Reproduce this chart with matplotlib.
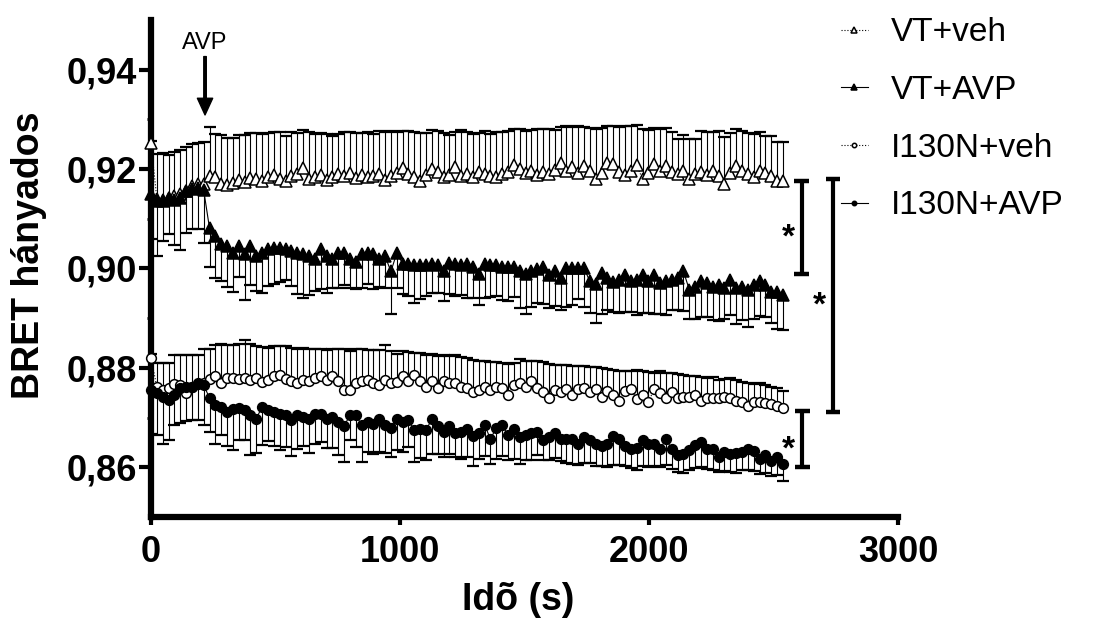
import numpy as np
import matplotlib
matplotlib.use('Agg')
import matplotlib.pyplot as plt

plt.rcParams['font.family'] = ['Liberation Sans', 'DejaVu Sans']

# ================================
# Dados
# ================================

# uma leitura a cada ~23.5 s, 109 leituras
tempo = np.arange(109) * 23.5

vt_veh = [
    0.9252, 0.9140, 0.9138, 0.9142, 0.9145, 0.9150, 0.9156, 0.9165, 0.9169, 0.9170,
    0.9187, 0.9184, 0.9170, 0.9168, 0.9172, 0.9178, 0.9174, 0.9182, 0.9180, 0.9176,
    0.9184, 0.9188, 0.9180, 0.9176, 0.9186, 0.9190, 0.9203, 0.9180, 0.9184, 0.9188,
    0.9178, 0.9185, 0.9190, 0.9186, 0.9192, 0.9182, 0.9188, 0.9184, 0.9186, 0.9190,
    0.9178, 0.9186, 0.9192, 0.9203, 0.9190, 0.9184, 0.9176, 0.9188, 0.9200, 0.9194,
    0.9184, 0.9188, 0.9205, 0.9186, 0.9190, 0.9184, 0.9194, 0.9190, 0.9186, 0.9184,
    0.9190, 0.9194, 0.9208, 0.9200, 0.9192, 0.9196, 0.9188, 0.9194, 0.9190, 0.9198,
    0.9213, 0.9196, 0.9205, 0.9192, 0.9207, 0.9196, 0.9180, 0.9192, 0.9213, 0.9210,
    0.9194, 0.9188, 0.9196, 0.9208, 0.9180, 0.9192, 0.9210, 0.9196, 0.9207, 0.9194,
    0.9190, 0.9196, 0.9180, 0.9190, 0.9194, 0.9188, 0.9196, 0.9186, 0.9170, 0.9192,
    0.9207, 0.9196, 0.9190, 0.9184, 0.9196, 0.9192, 0.9186, 0.9177, 0.9177]
vt_veh_err = [
    0.0005, 0.0090, 0.0094, 0.0086, 0.0090, 0.0088, 0.0089, 0.0085, 0.0083, 0.0084,
    0.0097, 0.0086, 0.0098, 0.0095, 0.0090, 0.0090, 0.0095, 0.0090, 0.0092, 0.0094,
    0.0088, 0.0086, 0.0094, 0.0090, 0.0088, 0.0082, 0.0075, 0.0094, 0.0086, 0.0084,
    0.0092, 0.0082, 0.0080, 0.0088, 0.0082, 0.0090, 0.0084, 0.0090, 0.0085, 0.0086,
    0.0096, 0.0090, 0.0082, 0.0074, 0.0086, 0.0090, 0.0096, 0.0084, 0.0078, 0.0082,
    0.0088, 0.0080, 0.0070, 0.0092, 0.0085, 0.0086, 0.0078, 0.0086, 0.0084, 0.0090,
    0.0084, 0.0082, 0.0072, 0.0080, 0.0084, 0.0082, 0.0092, 0.0086, 0.0090, 0.0080,
    0.0072, 0.0090, 0.0080, 0.0094, 0.0078, 0.0086, 0.0100, 0.0090, 0.0074, 0.0076,
    0.0090, 0.0098, 0.0090, 0.0080, 0.0100, 0.0086, 0.0072, 0.0084, 0.0076, 0.0080,
    0.0070, 0.0072, 0.0080, 0.0070, 0.0082, 0.0086, 0.0078, 0.0090, 0.0094, 0.0080,
    0.0074, 0.0080, 0.0082, 0.0086, 0.0078, 0.0074, 0.0080, 0.0078, 0.0077]

vt_avp = [
    0.9150, 0.9136, 0.9135, 0.9142, 0.9138, 0.9142, 0.9156, 0.9160, 0.9162, 0.9158,
    0.9081, 0.9065, 0.9049, 0.9045, 0.9031, 0.9045, 0.9029, 0.9045, 0.9025, 0.9031,
    0.9039, 0.9041, 0.9041, 0.9040, 0.9035, 0.9031, 0.9029, 0.9025, 0.9020, 0.9040,
    0.9025, 0.9020, 0.9031, 0.9031, 0.9020, 0.9014, 0.9029, 0.9031, 0.9029, 0.9020,
    0.9025, 0.8994, 0.9031, 0.9010, 0.9010, 0.9008, 0.9008, 0.9008, 0.9010, 0.9008,
    0.8994, 0.9012, 0.9010, 0.9008, 0.9010, 0.9004, 0.8988, 0.9010, 0.9008, 0.9008,
    0.9004, 0.9004, 0.9004, 0.8994, 0.8988, 0.8994, 0.8998, 0.9004, 0.8987, 0.8994,
    0.8980, 0.9001, 0.9001, 0.9001, 0.9001, 0.8974, 0.8968, 0.8990, 0.8980, 0.8972,
    0.8977, 0.8987, 0.8974, 0.8977, 0.8987, 0.8974, 0.8987, 0.8970, 0.8974, 0.8977,
    0.8980, 0.8994, 0.8957, 0.8963, 0.8974, 0.8970, 0.8963, 0.8967, 0.8960, 0.8977,
    0.8960, 0.8963, 0.8957, 0.8967, 0.8974, 0.8967, 0.8953, 0.8953, 0.8947]
vt_avp_err = [
    0.0090, 0.0110, 0.0080, 0.0072, 0.0090, 0.0105, 0.0085, 0.0080, 0.0082, 0.0106,
    0.0077, 0.0085, 0.0075, 0.0082, 0.0078, 0.0062, 0.0092, 0.0078, 0.0070, 0.0080,
    0.0075, 0.0072, 0.0068, 0.0064, 0.0070, 0.0082, 0.0088, 0.0078, 0.0066, 0.0082,
    0.0074, 0.0060, 0.0070, 0.0065, 0.0060, 0.0056, 0.0068, 0.0062, 0.0070, 0.0058,
    0.0064, 0.0085, 0.0070, 0.0062, 0.0065, 0.0078, 0.0070, 0.0064, 0.0060, 0.0058,
    0.0060, 0.0064, 0.0066, 0.0062, 0.0070, 0.0064, 0.0062, 0.0070, 0.0066, 0.0064,
    0.0068, 0.0070, 0.0062, 0.0074, 0.0080, 0.0072, 0.0068, 0.0075, 0.0066, 0.0070,
    0.0064, 0.0078, 0.0074, 0.0062, 0.0078, 0.0064, 0.0078, 0.0082, 0.0064, 0.0060,
    0.0066, 0.0074, 0.0062, 0.0070, 0.0076, 0.0064, 0.0078, 0.0062, 0.0068, 0.0060,
    0.0064, 0.0080, 0.0058, 0.0064, 0.0072, 0.0068, 0.0066, 0.0072, 0.0062, 0.0070,
    0.0072, 0.0066, 0.0074, 0.0068, 0.0070, 0.0064, 0.0062, 0.0074, 0.0070]

i130n_veh = [
    0.8820, 0.8762, 0.8755, 0.8760, 0.8768, 0.8765, 0.8750, 0.8762, 0.8768, 0.8770,
    0.8778, 0.8783, 0.8770, 0.8779, 0.8780, 0.8778, 0.8779, 0.8776, 0.8779, 0.8772,
    0.8776, 0.8783, 0.8786, 0.8778, 0.8773, 0.8769, 0.8776, 0.8773, 0.8780, 0.8783,
    0.8776, 0.8783, 0.8773, 0.8756, 0.8756, 0.8769, 0.8773, 0.8776, 0.8770, 0.8766,
    0.8776, 0.8769, 0.8772, 0.8783, 0.8773, 0.8786, 0.8773, 0.8762, 0.8773, 0.8759,
    0.8773, 0.8769, 0.8769, 0.8762, 0.8759, 0.8752, 0.8756, 0.8762, 0.8756, 0.8762,
    0.8759, 0.8746, 0.8766, 0.8769, 0.8762, 0.8773, 0.8760, 0.8752, 0.8739, 0.8756,
    0.8752, 0.8758, 0.8746, 0.8758, 0.8760, 0.8752, 0.8758, 0.8742, 0.8754, 0.8746,
    0.8734, 0.8754, 0.8758, 0.8737, 0.8746, 0.8731, 0.8758, 0.8749, 0.8740, 0.8752,
    0.8739, 0.8742, 0.8742, 0.8746, 0.8734, 0.8740, 0.8740, 0.8740, 0.8742, 0.8739,
    0.8734, 0.8732, 0.8724, 0.8732, 0.8732, 0.8729, 0.8727, 0.8724, 0.8720]
i130n_veh_err = [
    0.0008, 0.0048, 0.0054, 0.0050, 0.0058, 0.0060, 0.0075, 0.0063, 0.0058, 0.0067,
    0.0060, 0.0064, 0.0078, 0.0068, 0.0066, 0.0070, 0.0078, 0.0072, 0.0066, 0.0070,
    0.0064, 0.0062, 0.0058, 0.0066, 0.0068, 0.0070, 0.0064, 0.0066, 0.0058, 0.0055,
    0.0060, 0.0054, 0.0064, 0.0082, 0.0078, 0.0068, 0.0064, 0.0060, 0.0066, 0.0070,
    0.0070, 0.0064, 0.0056, 0.0050, 0.0058, 0.0044, 0.0056, 0.0064, 0.0054, 0.0064,
    0.0052, 0.0054, 0.0056, 0.0060, 0.0060, 0.0064, 0.0058, 0.0052, 0.0056, 0.0050,
    0.0050, 0.0062, 0.0044, 0.0048, 0.0052, 0.0040, 0.0054, 0.0060, 0.0068, 0.0050,
    0.0054, 0.0048, 0.0058, 0.0046, 0.0044, 0.0050, 0.0044, 0.0058, 0.0044, 0.0050,
    0.0060, 0.0040, 0.0036, 0.0058, 0.0048, 0.0060, 0.0032, 0.0044, 0.0050, 0.0038,
    0.0048, 0.0044, 0.0042, 0.0038, 0.0048, 0.0040, 0.0042, 0.0036, 0.0036, 0.0040,
    0.0042, 0.0040, 0.0046, 0.0036, 0.0038, 0.0036, 0.0034, 0.0036, 0.0034]

i130n_avp = [
    0.8756, 0.8749, 0.8742, 0.8735, 0.8746, 0.8759, 0.8762, 0.8762, 0.8769, 0.8766,
    0.8739, 0.8725, 0.8722, 0.8712, 0.8718, 0.8720, 0.8715, 0.8705, 0.8698, 0.8722,
    0.8715, 0.8712, 0.8708, 0.8705, 0.8695, 0.8705, 0.8702, 0.8698, 0.8708, 0.8708,
    0.8698, 0.8702, 0.8691, 0.8683, 0.8705, 0.8705, 0.8685, 0.8691, 0.8688, 0.8698,
    0.8685, 0.8679, 0.8697, 0.8691, 0.8695, 0.8675, 0.8677, 0.8675, 0.8697, 0.8683,
    0.8670, 0.8683, 0.8668, 0.8670, 0.8677, 0.8663, 0.8668, 0.8686, 0.8657, 0.8679,
    0.8686, 0.8664, 0.8678, 0.8661, 0.8664, 0.8668, 0.8671, 0.8654, 0.8661, 0.8668,
    0.8657, 0.8657, 0.8656, 0.8647, 0.8661, 0.8654, 0.8647, 0.8643, 0.8647, 0.8663,
    0.8657, 0.8643, 0.8637, 0.8639, 0.8654, 0.8647, 0.8647, 0.8637, 0.8656, 0.8637,
    0.8625, 0.8627, 0.8634, 0.8644, 0.8651, 0.8637, 0.8637, 0.8620, 0.8630, 0.8627,
    0.8629, 0.8630, 0.8637, 0.8632, 0.8617, 0.8624, 0.8612, 0.8620, 0.8607]
i130n_avp_err = [
    0.0090, 0.0085, 0.0095, 0.0080, 0.0060, 0.0070, 0.0068, 0.0067, 0.0074, 0.0080,
    0.0068, 0.0078, 0.0058, 0.0070, 0.0084, 0.0066, 0.0060, 0.0080, 0.0070, 0.0078,
    0.0062, 0.0070, 0.0074, 0.0064, 0.0072, 0.0068, 0.0060, 0.0070, 0.0062, 0.0058,
    0.0060, 0.0064, 0.0066, 0.0072, 0.0050, 0.0064, 0.0074, 0.0060, 0.0062, 0.0068,
    0.0056, 0.0058, 0.0062, 0.0060, 0.0054, 0.0064, 0.0058, 0.0060, 0.0070, 0.0056,
    0.0050, 0.0056, 0.0048, 0.0054, 0.0056, 0.0060, 0.0052, 0.0064, 0.0050, 0.0062,
    0.0064, 0.0050, 0.0062, 0.0054, 0.0050, 0.0054, 0.0046, 0.0040, 0.0046, 0.0050,
    0.0044, 0.0048, 0.0050, 0.0042, 0.0052, 0.0046, 0.0044, 0.0040, 0.0046, 0.0058,
    0.0052, 0.0040, 0.0038, 0.0044, 0.0052, 0.0046, 0.0044, 0.0036, 0.0052, 0.0040,
    0.0034, 0.0038, 0.0040, 0.0046, 0.0050, 0.0040, 0.0042, 0.0030, 0.0038, 0.0036,
    0.0040, 0.0036, 0.0042, 0.0040, 0.0030, 0.0036, 0.0030, 0.0036, 0.0034]

rotulos = ['VT+veh', 'VT+AVP', 'I130N+veh', 'I130N+AVP']

y_ticks = [0.86, 0.88, 0.90, 0.92, 0.94]
y_labels = ['0,86', '0,88', '0,90', '0,92', '0,94']
x_ticks = [0, 1000, 2000, 3000]

# momento da adição de AVP (s)
avp_tempo = 217

# colchetes de significância: (x, y inferior, y superior)
colchetes = [(2614, 0.8988, 0.9177), (2739, 0.8712, 0.9181), (2616, 0.8600, 0.8714)]

# ================================
# Figura
# ================================
fig = plt.figure(figsize=(10.95, 6.21), dpi=100)
ax = fig.add_axes([0.1379, 0.1675, 0.6822, 0.8003])

# (valores, erro, erro para cima?, marcador, preenchimento, estilo de linha, tamanho)
estilos = [
    (vt_veh, vt_veh_err, True, '^', 'white', ':', 9.0),
    (vt_avp, vt_avp_err, False, '^', 'black', '-', 9.0),
    (i130n_veh, i130n_veh_err, True, 'o', 'white', ':', 7.0),
    (i130n_avp, i130n_avp_err, False, 'o', 'black', '-', 7.0),
]

handles = []
for (vals, err, para_cima, mk, face, ls, ms), rot in zip(estilos, rotulos):
    vals = np.array(vals)
    err = np.array(err)
    zeros = np.zeros_like(err)
    if para_cima:
        yerr = [zeros, err]
        topo = vals + err
    else:
        yerr = [err, zeros]
        topo = vals - err
    ax.errorbar(tempo, vals, yerr=yerr, fmt='none', ecolor='black',
                elinewidth=0.8, capsize=0, zorder=2)
    ax.plot(tempo, topo, linestyle='none', marker='_', ms=8, mew=1.6,
            color='black', zorder=2)
    h, = ax.plot(tempo, vals, linestyle=ls, lw=0.8, color='black',
                 marker=mk, ms=ms, mfc=face, mec='black', mew=1.1,
                 zorder=3, clip_on=False, label=rot)
    handles.append(h)

# colchetes + asteriscos
for x, y0, y1 in colchetes:
    ax.plot([x, x], [y0, y1], color='black', lw=3, clip_on=False,
            solid_capstyle='butt')
    for y in (y0, y1):
        ax.plot([x - 30, x + 30], [y, y], color='black', lw=3.2,
                clip_on=False, solid_capstyle='butt')
    ax.annotate('*', xy=(x, (y0 + y1) / 2), xytext=(-10, -14),
                textcoords='offset points', ha='center', va='baseline',
                fontsize=24, fontweight='bold', annotation_clip=False)

# seta do AVP
ax.annotate('AVP', xy=(avp_tempo, 0.9309), xytext=(avp_tempo, 0.9432),
            ha='center', va='bottom', fontsize=17,
            arrowprops=dict(facecolor='black', edgecolor='black', width=1.8,
                            headwidth=11, headlength=12, shrink=0),
            annotation_clip=False)

# eixos
ax.set_xlim(0, 3000)
ax.set_ylim(0.85, 0.95)
ax.set_yticks(y_ticks, y_labels, fontsize=26, fontweight='bold')
ax.set_yticks([0.87, 0.89, 0.91, 0.93], minor=True)
ax.set_xticks(x_ticks, [str(v) for v in x_ticks], fontsize=26, fontweight='bold')

for s in ['top', 'right']:
    ax.spines[s].set_visible(False)
for s in ['left', 'bottom']:
    ax.spines[s].set_linewidth(4.5)

ax.tick_params(axis='y', which='major', length=9, width=3, pad=1)
ax.tick_params(axis='y', which='minor', length=3, width=2)
ax.tick_params(axis='x', which='major', length=6, width=3, pad=7)

ax.set_ylabel('BRET hányados', fontsize=27, fontweight='bold')
ax.yaxis.set_label_coords(-0.139, 0.527)
ax.set_xlabel('Idõ (s)', fontsize=27, fontweight='bold')
ax.xaxis.set_label_coords(0.491, -0.13)

# legenda
fig.legend(handles, rotulos, loc='upper left', bbox_to_anchor=(0.768, 0.972),
           frameon=False, fontsize=24, handlelength=0.8, handletextpad=0.7,
           labelspacing=0.8, markerscale=0.45, borderpad=0, borderaxespad=0)

plt.savefig('out.png', dpi=100)
